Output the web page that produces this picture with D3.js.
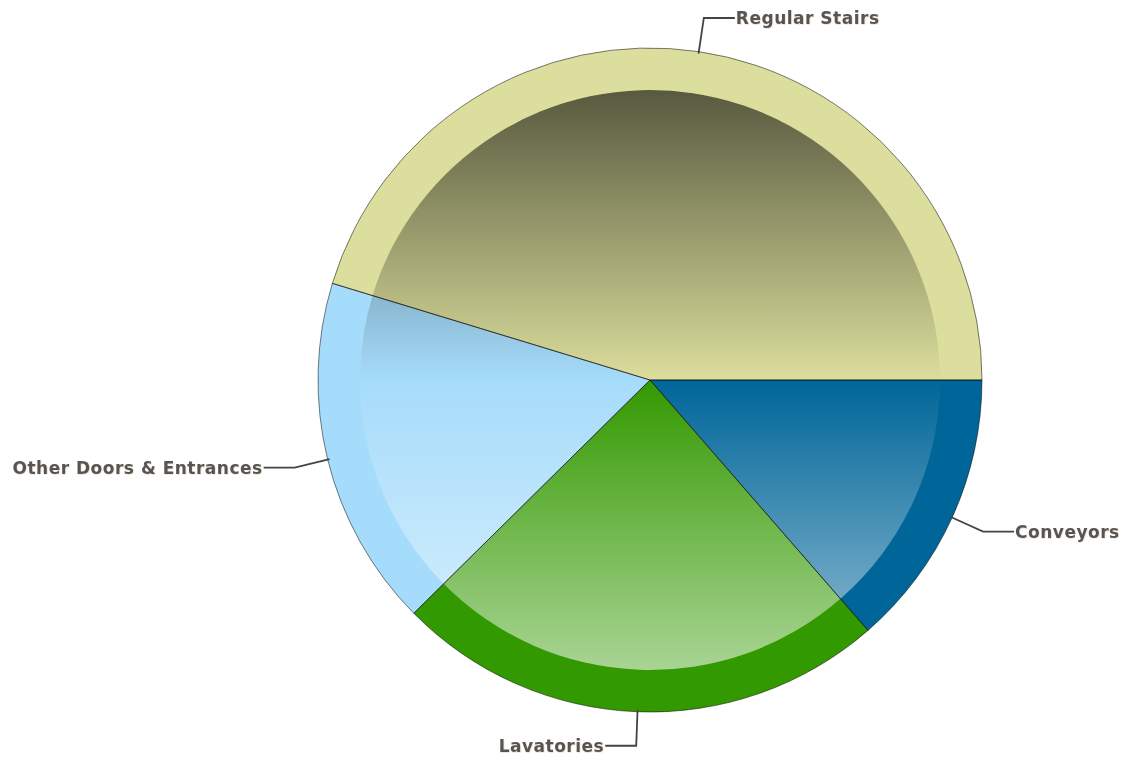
<!DOCTYPE html>
<html>
<head>
<meta charset="utf-8">
<script src="https://cdn.jsdelivr.net/npm/d3@7"></script>
<style>
  body { margin: 0; background: #fff; }
  svg { display: block; }
  .lbl { font-family: "DejaVu Sans", sans-serif; font-weight: bold; font-size: 17px; letter-spacing: 0.5px; fill: #555; }
</style>
</head>
<body>
<svg id="chart" width="1125" height="758"></svg>
<script>
// slices, clockwise from 3 o'clock
const categories = ['Conveyors', 'Lavatories', 'Other Doors & Entrances', 'Regular Stairs']
const values = [13.6, 24.0, 17.1, 45.3]
const colors = ['#006699', '#339900', '#a6dcfb', '#dbde9c']

const cx = 650, cy = 380, R = 332, Rin = 290

const svg = d3.select('#chart')
const defs = svg.append('defs')

// coords relative to the pie centre (the paths sit in a translated group)
let grad = defs.append('linearGradient')
  .attr('id', 'shade')
  .attr('gradientUnits', 'userSpaceOnUse')
  .attr('x1', 0).attr('y1', -Rin)
  .attr('x2', 0).attr('y2', Rin)
grad.append('stop').attr('offset', 0).attr('stop-color', '#000').attr('stop-opacity', 0.6)
grad.append('stop').attr('offset', 0.5).attr('stop-color', '#000').attr('stop-opacity', 0)
grad.append('stop').attr('offset', 0.5).attr('stop-color', '#fff').attr('stop-opacity', 0)
grad.append('stop').attr('offset', 1).attr('stop-color', '#fff').attr('stop-opacity', 0.58)

let shadow = defs.append('filter').attr('id', 'glow')
  .attr('x', -0.1).attr('y', -0.3).attr('width', 1.2).attr('height', 1.6)
shadow.append('feDropShadow')
  .attr('dx', 0.5).attr('dy', 0.5).attr('stdDeviation', 0.6)
  .attr('flood-color', '#c8a070').attr('flood-opacity', 0.5)

// start at 3 o'clock, go clockwise (d3 angles start at 12 o'clock)
const pie = d3.pie().sort(null).startAngle(Math.PI / 2).endAngle(Math.PI * 2.5)
const arcs = pie(values)

const outer = d3.arc().innerRadius(0).outerRadius(R)
const inner = d3.arc().innerRadius(0).outerRadius(Rin)

let g = svg.append('g').attr('transform', `translate(${cx},${cy})`)

g.selectAll('path.slice')
  .data(arcs)
  .enter().append('path')
  .attr('class', 'slice')
  .attr('d', outer)
  .attr('fill', (d, i) => colors[i])

g.selectAll('path.shade')
  .data(arcs)
  .enter().append('path')
  .attr('class', 'shade')
  .attr('d', inner)
  .attr('fill', 'url(#shade)')

// slice edges over the overlay
g.selectAll('path.edge')
  .data(arcs)
  .enter().append('path')
  .attr('class', 'edge')
  .attr('d', outer)
  .attr('fill', 'none')
  .attr('stroke', 'rgba(0,0,0,0.5)')
  .attr('stroke-width', 1)

// labels with elbow connectors
const elbowR = R + 34, run = 31
arcs.forEach((d, i) => {
  let a = (d.startAngle + d.endAngle) / 2
  let sx = Math.sin(a), sy = -Math.cos(a)
  let p0 = [sx * (R - 2), sy * (R - 2)]
  let p1 = [sx * elbowR, sy * elbowR]
  let dir = sx >= 0 ? 1 : -1
  let p2 = [p1[0] + dir * run, p1[1]]
  g.append('polyline')
    .attr('points', [p0, p1, p2].map(p => p.join(',')).join(' '))
    .attr('fill', 'none')
    .attr('stroke', '#444')
    .attr('stroke-width', 1.8)
  g.append('text')
    .attr('class', 'lbl')
    .attr('x', p2[0] + dir * 1)
    .attr('y', p2[1])
    .attr('dy', '0.35em')
    .attr('text-anchor', dir > 0 ? 'start' : 'end')
    .attr('filter', 'url(#glow)')
    .text(categories[i])
})
</script>
</body>
</html>
